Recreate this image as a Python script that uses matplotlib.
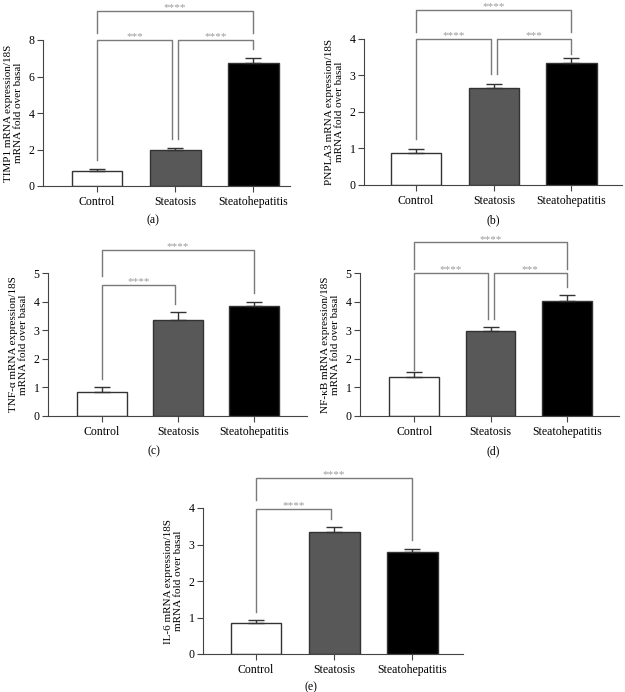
import numpy as np
import matplotlib
matplotlib.use("Agg")
import matplotlib.pyplot as plt

plt.rcParams['font.family'] = ['Liberation Serif', 'DejaVu Serif']

groups = ["Control", "Steatosis", "Steatohepatitis"]
colors = ["white", "#585858", "black"]

# means and SEM (upper error only)
timp1 = [0.80, 1.95, 6.75]
timp1_err = [0.13, 0.15, 0.25]
pnpla3 = [0.87, 2.65, 3.35]
pnpla3_err = [0.12, 0.13, 0.12]
tnfa = [0.85, 3.37, 3.85]
tnfa_err = [0.15, 0.25, 0.12]
nfkb = [1.35, 2.97, 4.02]
nfkb_err = [0.18, 0.13, 0.20]
il6 = [0.84, 3.35, 2.80]
il6_err = [0.09, 0.13, 0.07]

# significance brackets: (from, to, bar height, left leg end, right leg end, label)
timp1_sig = [(0, 2, 9.6, 8.4, 8.4, "****"), (0, 1, 8.0, 1.4, 2.6, "***"),
             (1, 2, 8.0, 2.6, 7.5, "****")]
pnpla3_sig = [(0, 2, 4.8, 4.2, 4.2, "****"), (0, 1, 4.0, 1.25, 3.05, "****"),
              (1, 2, 4.0, 3.05, 3.6, "***")]
tnfa_sig = [(0, 2, 5.82, 4.88, 4.3, "****"), (0, 1, 4.59, 1.3, 3.9, "****")]
nfkb_sig = [(0, 2, 6.08, 5.14, 5.14, "****"), (0, 1, 5.0, 1.6, 3.38, "****"),
            (1, 2, 5.0, 3.38, 4.5, "***")]
il6_sig = [(0, 2, 4.82, 4.23, 3.13, "****"), (0, 1, 3.97, 1.16, 3.7, "****")]

panels = [
    ("TIMP1 mRNA expression/18S\nmRNA fold over basal", timp1, timp1_err, timp1_sig, 8, [0, 2, 4, 6, 8], "(a)"),
    ("PNPLA3 mRNA expression/18S\nmRNA fold over basal", pnpla3, pnpla3_err, pnpla3_sig, 4, [0, 1, 2, 3, 4], "(b)"),
    ("TNF-α mRNA expression/18S\nmRNA fold over basal", tnfa, tnfa_err, tnfa_sig, 5, [0, 1, 2, 3, 4, 5], "(c)"),
    ("NF-κB mRNA expression/18S\nmRNA fold over basal", nfkb, nfkb_err, nfkb_sig, 5, [0, 1, 2, 3, 4, 5], "(d)"),
    ("IL-6 mRNA expression/18S\nmRNA fold over basal", il6, il6_err, il6_sig, 4, [0, 1, 2, 3, 4], "(e)"),
]

# axes boxes in pixels: left, right, top(ymax), bottom(y0), xlim
W, H = 625, 692
boxes = [
    (43, 290, 40, 186, (-0.69, 2.47)),
    (364, 622, 39, 185, (-0.67, 2.65)),
    (48, 307, 273, 416, (-0.71, 2.70)),
    (360, 619, 273, 416, (-0.71, 2.68)),
    (203, 463, 508, 654, (-0.68, 2.65)),
]
letter_pos = [(153, 220), (493, 220), (154, 451), (493, 451), (311, 687)]

fig = plt.figure(figsize=(W / 100, H / 100), dpi=100)
line_gray = "#7a7a7a"
star_gray = "#9a9a9a"
x = np.arange(3)

for (ylab, vals, errs, sig, ymax, ticks, letter), (l, r, t, b, xl), lp in zip(panels, boxes, letter_pos):
    ax = fig.add_axes([l / W, 1 - b / H, (r - l) / W, (b - t) / H])
    ax.bar(x, vals, width=0.65, color=colors, edgecolor="#333333", linewidth=1.0, zorder=2)
    ax.errorbar(x, vals, yerr=[[0, 0, 0], errs], fmt="none", ecolor="#333333",
                elinewidth=1.0, capsize=6, capthick=1.0, zorder=3)
    ax.set_xlim(*xl)
    ax.set_ylim(0, ymax)
    ax.set_yticks(ticks)
    ax.set_xticks(x)
    ax.set_xticklabels(groups, fontsize=8.5)
    ax.tick_params(axis='y', labelsize=8.5, length=4, width=0.8, color="#444444", pad=2)
    ax.tick_params(axis='x', length=4, width=0.8, color="#444444", pad=3)
    for s in ["top", "right"]:
        ax.spines[s].set_visible(False)
    for s in ["left", "bottom"]:
        ax.spines[s].set_color("#444444")
        ax.spines[s].set_linewidth(0.8)
    ax.set_ylabel(ylab, fontsize=8, linespacing=1.1, labelpad=4)
    px = ymax / (b - t)  # data units per pixel
    for i, j, yb, yi, yj, lab in sig:
        xi = i + (0.04 if i == 1 else 0)
        xj = j - (0.04 if j == 1 else 0)
        ax.plot([xi, xi, xj, xj], [yi, yb, yb, yj], color=line_gray, lw=1.0, clip_on=False, zorder=4)
        ax.text((xi + xj) / 2, yb + 0.5 * px, lab, ha="center", va="baseline",
                fontsize=8, color=star_gray, clip_on=False)
    fig.text(lp[0] / W, 1 - lp[1] / H, letter, ha="center", va="center", fontsize=8.5)

fig.savefig("out.png", dpi=100)
